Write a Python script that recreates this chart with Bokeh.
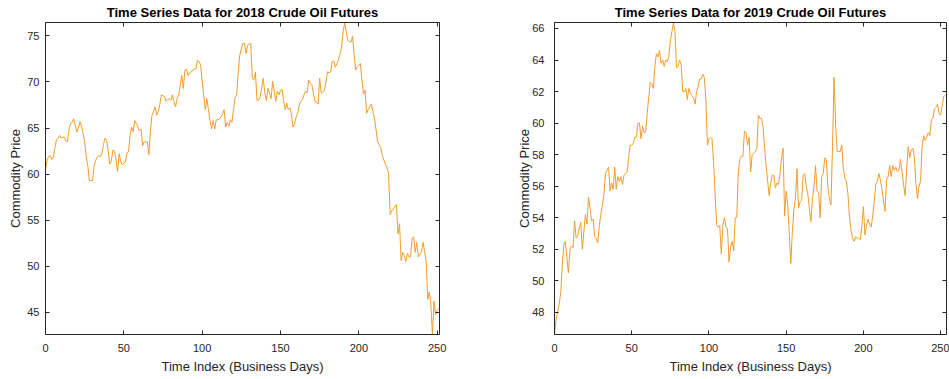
from bokeh.plotting import figure
from bokeh.models import LinearAxis, FixedTicker, Range1d, Title, CustomJSTickFormatter
from bokeh.layouts import row
from bokeh.embed import file_html
from bokeh.resources import INLINE

# ---------------- data ----------------
price_2018 = [
    60.4, 61.5, 61.9, 62.0, 61.6, 61.8, 62.9, 63.7, 63.9, 64.2,
    63.9, 64.0, 64.0, 63.6, 63.5, 64.8, 65.5, 65.6, 66.0, 65.3,
    64.6, 65.0, 65.7, 65.2, 64.4, 63.5, 61.9, 60.9, 59.3, 59.3,
    59.3, 60.8, 61.5, 61.8, 62.0, 61.9, 62.2, 63.2, 63.9, 63.7,
    62.5, 61.1, 61.4, 62.6, 62.5, 61.6, 60.3, 62.2, 61.4, 61.0,
    61.2, 61.3, 62.3, 62.4, 64.2, 65.1, 64.6, 65.8, 65.5, 65.1,
    64.7, 64.9, 63.1, 63.5, 63.5, 63.5, 62.1, 64.8, 66.4, 66.8,
    67.3, 66.4, 66.8, 67.6, 68.6, 68.5, 68.4, 67.9, 68.1, 68.2,
    68.0, 68.6, 67.9, 67.3, 68.2, 68.6, 69.6, 70.7, 69.3, 71.3,
    71.4, 70.7, 71.0, 71.1, 71.3, 71.4, 71.4, 72.4, 72.2, 71.9,
    70.1, 68.5, 67.0, 68.2, 67.0, 65.8, 64.9, 65.8, 64.9, 65.9,
    65.9, 66.0, 66.2, 66.5, 67.0, 65.1, 65.6, 65.2, 65.9, 65.6,
    67.0, 68.3, 68.6, 71.0, 72.9, 73.6, 74.2, 74.2, 73.1, 74.0,
    74.1, 74.2, 70.4, 70.2, 71.1, 68.0, 68.0, 68.4, 69.4, 70.4,
    68.8, 68.0, 69.3, 68.8, 68.2, 70.1, 69.0, 67.9, 69.0, 68.6,
    69.1, 69.2, 68.0, 67.0, 67.7, 67.0, 67.2, 66.5, 65.1, 65.5,
    66.2, 66.6, 67.5, 67.9, 68.1, 68.6, 69.0, 68.8, 70.2, 69.9,
    69.7, 68.8, 67.9, 67.8, 67.6, 70.4, 68.8, 68.9, 69.1, 70.0,
    71.1, 71.0, 71.1, 72.2, 72.3, 71.6, 72.0, 72.4, 73.0, 73.8,
    75.5, 76.45, 75.4, 74.5, 74.4, 74.3, 75.0, 73.0, 71.3, 71.6,
    71.8, 72.0, 70.2, 68.7, 69.1, 66.6, 67.0, 67.3, 67.6, 66.8,
    66.0, 64.8, 63.5, 63.2, 62.9, 62.0, 61.5, 61.1, 60.6, 60.1,
    55.6, 56.0, 56.2, 56.5, 56.7, 53.5, 54.6, 50.6, 51.5, 51.2,
    50.5, 51.4, 51.0, 51.0, 53.0, 53.2, 51.5, 52.6, 51.0, 51.3,
    51.5, 52.6, 51.6, 50.5, 46.4, 47.2, 45.8, 42.6, 46.2, 44.7,
    45.2, 45.4,
]
days_2018 = list(range(len(price_2018)))

price_2019 = [
    46.6, 47.5, 48.0, 48.5, 49.2, 50.9, 52.3, 52.5, 51.5, 50.5,
    52.0, 52.2, 52.1, 53.8, 52.7, 52.8, 53.3, 53.7, 52.0, 53.1,
    54.2, 53.6, 55.3, 54.6, 53.8, 53.9, 52.8, 52.7, 52.4, 53.5,
    54.2, 54.8, 55.5, 56.8, 57.0, 57.2, 55.7, 56.2, 55.8, 57.2,
    55.8, 56.6, 56.3, 56.6, 56.1, 56.7, 56.8, 56.9, 57.8, 58.6,
    58.6, 58.7, 59.1, 59.1, 60.0, 60.0, 59.0, 59.8, 59.4, 59.4,
    60.6, 61.6, 62.6, 62.5, 62.2, 63.6, 64.4, 64.2, 64.6, 63.8,
    64.0, 63.6, 64.0, 63.9, 64.2, 65.2, 65.8, 66.35, 65.8, 63.5,
    63.6, 64.0, 63.7, 62.0, 62.0, 62.2, 61.5, 62.2, 61.9, 61.75,
    61.6, 61.2, 62.0, 62.3, 62.8, 62.8, 63.1, 62.9, 61.4, 58.6,
    59.0, 59.1, 59.0, 57.5, 55.5, 53.5, 53.4, 53.5, 51.7, 53.5,
    54.0, 53.4, 53.3, 51.2, 52.1, 52.5, 51.9, 54.0, 54.0, 56.9,
    57.7, 57.9, 57.9, 59.5, 59.4, 58.6, 59.1, 56.9, 58.0, 58.1,
    58.2, 58.4, 60.5, 60.3, 60.3, 59.8, 58.5, 57.3, 56.3, 55.4,
    56.2, 56.7, 56.7, 55.9, 56.2, 56.1, 56.8, 57.8, 58.4, 54.1,
    55.7, 54.8, 53.0, 51.1, 53.1, 54.5, 55.2, 57.1, 54.6, 55.0,
    55.1, 56.7, 56.8, 56.0, 55.5, 54.6, 53.75, 55.2, 56.0, 57.3,
    55.7, 55.6, 54.0, 56.6, 56.8, 57.8, 57.7, 55.9, 55.2, 54.8,
    58.5, 62.9, 59.9, 58.2, 58.2, 58.2, 58.6, 57.1, 56.5, 56.3,
    55.5, 54.0, 53.2, 52.7, 52.5, 52.8, 52.7, 52.7, 52.6, 53.5,
    54.7, 52.9, 53.5, 53.9, 53.6, 53.4, 54.1, 55.0, 56.1, 56.3,
    56.8, 56.4, 55.8, 55.1, 54.4, 56.4, 56.6, 57.3, 56.6, 57.3,
    57.0, 57.2, 56.9, 57.0, 57.7, 56.9, 56.1, 55.4, 57.0, 58.5,
    57.8, 58.3, 58.4, 57.8, 56.2, 55.2, 56.0, 56.3, 58.5, 59.2,
    58.9, 59.1, 59.4, 59.2, 60.2, 60.3, 60.9, 61.0, 61.2, 60.6,
    60.5, 61.1, 61.7, 61.75,
]
days_2019 = list(range(len(price_2019)))

x_ticks = [0, 50, 100, 150, 200, 250]
y_ticks_2018 = [45, 50, 55, 60, 65, 70, 75]
y_ticks_2019 = [48, 50, 52, 54, 56, 58, 60, 62, 64, 66]

titles = ["Time Series Data for 2018 Crude Oil Futures",
          "Time Series Data for 2019 Crude Oil Futures"]
x_label = "Time Index (Business Days)"
y_label = "Commodity Price"

AX = "#262626"
LINE = "#F39C2B"
FONT = "Liberation Sans"


def style_axis(ax, ticks, labels=True):
    ax.ticker = FixedTicker(ticks=ticks)
    ax.axis_line_color = AX
    ax.axis_line_width = 1
    ax.major_tick_line_color = AX
    ax.major_tick_in = 4
    ax.major_tick_out = 0
    ax.minor_tick_line_color = None
    ax.major_label_text_color = AX
    ax.major_label_text_font = FONT
    ax.major_label_text_font_size = "11px"
    if not labels:
        ax.formatter = CustomJSTickFormatter(code="return ''")
        ax.major_label_text_font_size = "0px"
        ax.major_label_standoff = 0


def make_fig(title, x, y, x_end, y_range, y_ticks, width, b_left, b_right,
             ytick_standoff, ylabel_standoff):
    p = figure(width=width, height=379, output_backend="svg", toolbar_location=None,
               x_range=Range1d(0, x_end), y_range=Range1d(*y_range),
               min_border_left=b_left, min_border_right=b_right,
               min_border_top=22, min_border_bottom=45)
    p.line(x, y, line_color=LINE, line_width=1.0)
    p.xgrid.visible = False
    p.ygrid.visible = False
    p.outline_line_color = None
    p.background_fill_color = "white"
    p.border_fill_color = "white"

    style_axis(p.xaxis[0], x_ticks)
    style_axis(p.yaxis[0], y_ticks)
    p.xaxis[0].major_label_standoff = 9
    p.yaxis[0].major_label_standoff = ytick_standoff
    for ax, lab in ((p.xaxis[0], x_label), (p.yaxis[0], y_label)):
        ax.axis_label = lab
        ax.axis_label_text_font = FONT
        ax.axis_label_text_font_size = "13px"
        ax.axis_label_text_font_style = "normal"
        ax.axis_label_text_color = AX
    p.xaxis[0].axis_label_standoff = 4
    p.yaxis[0].axis_label_standoff = ylabel_standoff

    top = LinearAxis()
    style_axis(top, x_ticks, labels=False)
    p.add_layout(top, "above")
    right = LinearAxis()
    style_axis(right, y_ticks, labels=False)
    p.add_layout(right, "right")

    t = Title(text=title, align="center", text_font=FONT, text_font_size="13px",
              text_font_style="bold", text_color="black", standoff=5)
    p.add_layout(t, "above")
    return p


p1 = make_fig(titles[0], days_2018, price_2018, 251.5, (42.58, 76.46), y_ticks_2018,
              512, 45, 73, 6, 1)
p2 = make_fig(titles[1], days_2019, price_2019, 253.8, (46.59, 66.38), y_ticks_2019,
              437, 42, 3, 10, -3)

layout = row(p1, p2)
open("out.html", "w").write(file_html(layout, INLINE))
